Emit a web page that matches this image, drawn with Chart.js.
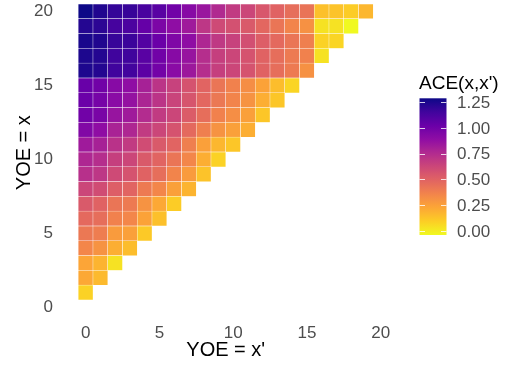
<!DOCTYPE html>
<html>
<head>
<meta charset="utf-8">
<script src="https://cdn.jsdelivr.net/npm/chart.js@4.4.1/dist/chart.umd.min.js"></script>
<style>
  html, body { margin: 0; padding: 0; background: #fff; }
  canvas { display: block; }
</style>
</head>
<body>
<canvas id="aceChart" width="506" height="366"></canvas>
<script>
// rows: YOE = x (1..20), columns: YOE = x' (0..x-1)
const yoeX = [1, 2, 3, 4, 5, 6, 7, 8, 9, 10, 11, 12, 13, 14, 15, 16, 17, 18, 19, 20];
const yoePrime = ['0', '1', '2', '3', '4', '5', '6', '7', '8', '9', '10',
                  '11', '12', '13', '14', '15', '16', '17', '18', '19', '20'];
const yTicks = [0, 5, 10, 15, 20];
const cbTicks = [0, 0.25, 0.5, 0.75, 1.0, 1.25];
const aceMin = -0.04;
const aceMax = 1.29;

const ace = [
  [0.08],
  [0.22, 0.16],
  [0.23, 0.18, 0.03],
  [0.35, 0.30, 0.20, 0.15],
  [0.41, 0.39, 0.27, 0.25, 0.11],
  [0.47, 0.45, 0.37, 0.35, 0.24, 0.14],
  [0.54, 0.50, 0.42, 0.40, 0.30, 0.22, 0.10],
  [0.63, 0.60, 0.52, 0.49, 0.40, 0.35, 0.25, 0.18],
  [0.73, 0.70, 0.61, 0.57, 0.50, 0.45, 0.36, 0.27, 0.13],
  [0.77, 0.74, 0.66, 0.63, 0.54, 0.49, 0.42, 0.35, 0.20, 0.08],
  [0.83, 0.80, 0.72, 0.68, 0.60, 0.54, 0.49, 0.38, 0.25, 0.17, 0.12],
  [0.94, 0.89, 0.79, 0.77, 0.68, 0.63, 0.57, 0.47, 0.38, 0.30, 0.25, 0.20],
  [1.00, 0.97, 0.86, 0.83, 0.75, 0.68, 0.63, 0.53, 0.45, 0.37, 0.32, 0.25, 0.12],
  [1.02, 0.98, 0.91, 0.87, 0.78, 0.71, 0.64, 0.56, 0.48, 0.41, 0.36, 0.30, 0.20, 0.12],
  [1.03, 1.00, 0.92, 0.89, 0.80, 0.71, 0.65, 0.57, 0.49, 0.42, 0.37, 0.32, 0.24, 0.15, 0.07],
  [1.25, 1.23, 1.16, 1.15, 1.07, 0.99, 0.91, 0.84, 0.74, 0.66, 0.63, 0.57, 0.50, 0.45, 0.40, 0.31],
  [1.25, 1.23, 1.16, 1.16, 1.08, 1.00, 0.92, 0.86, 0.74, 0.66, 0.63, 0.57, 0.50, 0.45, 0.40, 0.37, 0.03],
  [1.26, 1.24, 1.18, 1.17, 1.10, 1.02, 0.95, 0.89, 0.77, 0.69, 0.65, 0.59, 0.52, 0.47, 0.42, 0.38, 0.08, 0.07],
  [1.23, 1.21, 1.14, 1.12, 1.04, 0.96, 0.89, 0.83, 0.70, 0.61, 0.58, 0.54, 0.48, 0.42, 0.36, 0.31, 0.03, 0.03, -0.04],
  [1.29, 1.24, 1.19, 1.18, 1.13, 1.08, 1.00, 0.92, 0.85, 0.76, 0.68, 0.63, 0.55, 0.50, 0.45, 0.43, 0.14, 0.13, 0.10, 0.17]
];

// plasma palette
const plasmaStops = ['#0d0887', '#41049d', '#6a00a8', '#8f0da4', '#b12a90', '#cc4778',
                     '#e16462', '#f2844b', '#fca636', '#fcce25', '#f0f921'];

function hexRgb(h) {
  return [parseInt(h.slice(1, 3), 16), parseInt(h.slice(3, 5), 16), parseInt(h.slice(5, 7), 16)];
}

function plasma(t) {
  t = Math.max(0, Math.min(1, t));
  const n = plasmaStops.length - 1;
  const i = Math.min(n - 1, Math.floor(t * n));
  const f = t * n - i;
  const a = hexRgb(plasmaStops[i]), b = hexRgb(plasmaStops[i + 1]);
  const c = a.map((v, k) => Math.round(v + (b[k] - v) * f));
  return `rgb(${c[0]},${c[1]},${c[2]})`;
}

// high ACE -> dark end of the palette
function aceColor(v) {
  return plasma((aceMax - v) / (aceMax - aceMin));
}

// one empty category on the left, like ggplot's axis expansion
const xLabels = [''].concat(yoePrime);

const datasets = yoeX.map((x, r) => {
  const row = ace[r];
  return {
    label: 'x = ' + x,
    data: xLabels.map((_, k) => (k > 0 && k - 1 < row.length) ? [x - 0.5, x + 0.5] : null),
    backgroundColor: xLabels.map((_, k) => (k > 0 && k - 1 < row.length) ? aceColor(row[k - 1]) : 'transparent'),
    borderColor: 'rgba(255,255,255,0.85)',
    borderWidth: 0.5,
    borderSkipped: false,
    barPercentage: 1,
    categoryPercentage: 1,
    grouped: false
  };
});

// colour bar legend on the right
const colorbar = {
  id: 'colorbar',
  afterDraw(chart) {
    const ctx = chart.ctx;
    const x0 = 419.5, w = 27, top = 98.3, bottom = 235;
    const yOf = v => bottom - (v - aceMin) / (aceMax - aceMin) * (bottom - top);
    ctx.save();
    const g = ctx.createLinearGradient(0, top, 0, bottom);
    for (let i = 0; i <= 40; i++) g.addColorStop(i / 40, plasma(i / 40));
    ctx.fillStyle = g;
    ctx.fillRect(x0, top, w, bottom - top);

    ctx.strokeStyle = 'rgba(255,255,255,0.8)';
    ctx.lineWidth = 1;
    ctx.font = '17px "Liberation Sans", Arial, sans-serif';
    ctx.fillStyle = '#4d4d4d';
    ctx.textAlign = 'left';
    ctx.textBaseline = 'middle';
    cbTicks.forEach(v => {
      const y = Math.round(yOf(v)) + 0.5;
      ctx.beginPath();
      ctx.moveTo(x0, y); ctx.lineTo(x0 + 5.5, y);
      ctx.moveTo(x0 + w - 5.5, y); ctx.lineTo(x0 + w, y);
      ctx.stroke();
      ctx.fillText(v.toFixed(2), 457, yOf(v) + 1);
    });

    ctx.fillStyle = '#000';
    ctx.font = '19px "Liberation Sans", Arial, sans-serif';
    ctx.fillText("ACE(x,x')", 419, 84);
    ctx.restore();
  }
};

new Chart(document.getElementById('aceChart'), {
  type: 'bar',
  data: { labels: xLabels, datasets: datasets },
  options: {
    responsive: false,
    animation: false,
    devicePixelRatio: 1,
    layout: { padding: { top: 0, right: 118, left: 0, bottom: 0 } },
    plugins: { legend: { display: false }, tooltip: { enabled: false } },
    scales: {
      x: {
        type: 'category',
        offset: true,
        grid: { display: false, drawTicks: false },
        border: { display: false },
        ticks: {
          autoSkip: false,
          maxRotation: 0,
          padding: 8,
          color: '#4d4d4d',
          font: { family: '"Liberation Sans", Arial, sans-serif', size: 17 },
          callback: (v, i) => {
            const lab = xLabels[i];
            return lab !== '' && Number(lab) % 5 === 0 ? lab : '';
          }
        },
        title: {
          display: true,
          text: "YOE = x'",
          color: '#000',
          font: { family: '"Liberation Sans", Arial, sans-serif', size: 20 },
          padding: { top: 0, bottom: 4 }
        },
        afterFit: s => { s.height = 51.2; }
      },
      y: {
        type: 'linear',
        min: -0.5,
        max: 20.655,
        grid: { display: false, drawTicks: true, tickLength: 10.5 },
        border: { display: false },
        afterBuildTicks: s => { s.ticks = yTicks.map(v => ({ value: v })); },
        ticks: {
          padding: 0,
          color: '#4d4d4d',
          font: { family: '"Liberation Sans", Arial, sans-serif', size: 17, lineHeight: 0.2 }
        },
        title: {
          display: true,
          text: '  YOE = x',
          color: '#000',
          font: { family: '"Liberation Sans", Arial, sans-serif', size: 20 },
          padding: { top: 12, bottom: 0 }
        },
        afterFit: s => { s.width = 63.5; }
      }
    }
  },
  plugins: [colorbar]
});
</script>
</body>
</html>
